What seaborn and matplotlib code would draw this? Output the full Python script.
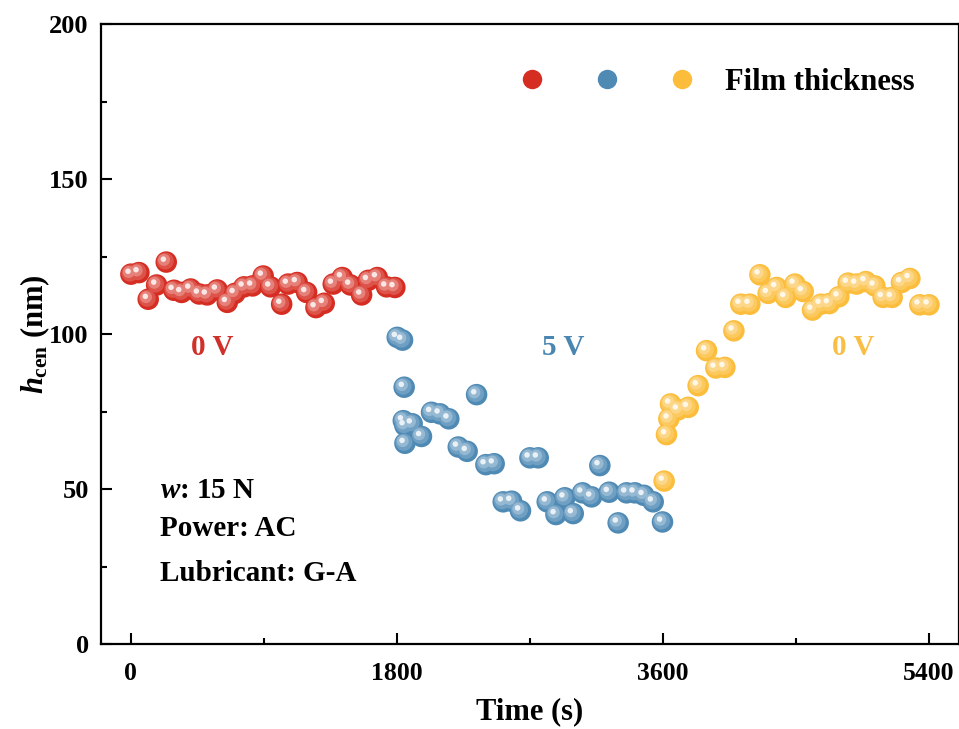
import numpy as np
import pandas as pd
import seaborn as sns
import matplotlib.pyplot as plt
import matplotlib.lines as mlines
from matplotlib.transforms import offset_copy
from matplotlib.legend_handler import HandlerTuple
from matplotlib.colors import to_rgb

# film thickness readings, one group per applied voltage
red_t = [0, 54, 117, 174, 239, 291, 343, 404, 462, 516, 584, 652, 704, 765, 823, 895,
         945, 1020, 1064, 1125, 1189, 1252, 1308, 1369, 1430, 1486, 1561, 1606, 1667, 1730, 1786]
red_h = [119.4, 119.9, 111.3, 115.9, 123.3, 114.2, 113.5, 114.6, 113.0, 112.7, 114.3, 110.3,
         113.2, 115.3, 115.6, 118.8, 115.3, 109.7, 116.2, 116.7, 113.5, 108.6, 110.0, 116.2,
         118.3, 115.9, 112.7, 117.4, 118.3, 115.3, 115.1]

blue_t = [1802, 1838, 1843, 1849, 1854, 1854, 1903, 1966, 2034, 2091, 2151, 2215, 2275, 2339,
          2402, 2458, 2519, 2576, 2636, 2700, 2756, 2817, 2876, 2936, 2993, 3056, 3117, 3173,
          3236, 3297, 3354, 3410, 3471, 3534, 3597]
blue_h = [99.0, 98.1, 72.1, 82.9, 70.5, 64.8, 71.1, 67.0, 74.8, 74.3, 72.7, 63.6, 62.2, 80.5,
          57.9, 58.2, 45.9, 46.1, 43.0, 60.1, 60.1, 45.9, 41.8, 47.2, 42.1, 48.8, 47.5, 57.6,
          49.0, 39.1, 48.8, 48.8, 48.0, 45.9, 39.4]

yellow_t = [3608, 3624, 3640, 3651, 3703, 3771, 3838, 3895, 3958, 4019, 4080, 4127, 4188, 4256,
            4312, 4369, 4430, 4493, 4549, 4612, 4669, 4725, 4790, 4853, 4910, 4973, 5034, 5090,
            5151, 5214, 5271, 5338, 5400]
yellow_h = [52.6, 67.6, 72.7, 77.5, 75.6, 76.4, 83.4, 94.7, 89.1, 89.3, 101.1, 109.7, 109.7,
            119.2, 113.2, 115.1, 111.9, 116.2, 113.8, 107.8, 109.7, 109.9, 112.1, 116.5, 116.2,
            117.0, 115.6, 111.9, 111.9, 116.7, 118.0, 109.5, 109.5]

phases = ["0 V (start)", "5 V", "0 V (end)"]
colors = ["#D62D22", "#4F8AB5", "#FBBD3B"]

df = pd.concat([
    pd.DataFrame({"time": red_t, "h": red_h, "phase": phases[0]}),
    pd.DataFrame({"time": blue_t, "h": blue_h, "phase": phases[1]}),
    pd.DataFrame({"time": yellow_t, "h": yellow_h, "phase": phases[2]}),
], ignore_index=True)

sns.set_style("ticks")
plt.rcParams["font.family"] = ["Liberation Serif", "DejaVu Serif"]
plt.rcParams["font.weight"] = "bold"
plt.rcParams["text.color"] = "black"
plt.rcParams["axes.labelcolor"] = "black"
plt.rcParams["xtick.color"] = "black"
plt.rcParams["ytick.color"] = "black"
plt.rcParams["axes.edgecolor"] = "black"
plt.rcParams["mathtext.fontset"] = "custom"
plt.rcParams["mathtext.it"] = "Liberation Serif:italic:bold"
plt.rcParams["mathtext.bf"] = "Liberation Serif:bold"
plt.rcParams["mathtext.rm"] = "Liberation Serif:bold"


def tint(c, f):
    r = np.array(to_rgb(c))
    return tuple(r + (1 - r) * f)


fig = plt.figure(figsize=(9.59, 7.29), dpi=100)
ax = fig.add_axes([0.1057, 0.1166, 0.8938, 0.8498])

# sphere look: base ball + lighter layers shifted up-left
layers = [(240, 0.0, 0, 0), (150, 0.18, -1.0, 1.0), (75, 0.4, -2.2, 2.2), (16, 0.88, -2.9, 2.9)]
for s, f, dx, dy in layers:
    tr = offset_copy(ax.transData, fig=fig, x=dx, y=dy, units="dots")
    sns.scatterplot(data=df, x="time", y="h", hue="phase", hue_order=phases,
                    palette=[tint(c, f) for c in colors], s=s, linewidth=0,
                    legend=False, ax=ax, transform=tr)

ax.set_xlim(-200, 5600)
ax.set_ylim(0, 200)
ax.set_xticks([0, 1800, 3600, 5400])
ax.set_xticks([900, 2700, 4500], minor=True)
ax.set_yticks([0, 50, 100, 150, 200])
ax.set_yticks([25, 75, 125, 175], minor=True)
ax.tick_params(axis="both", which="both", direction="in", width=1.5, colors="black")
ax.tick_params(axis="both", which="major", length=8)
ax.tick_params(axis="both", which="minor", length=4)
ax.tick_params(axis="x", which="major", labelsize=18.5, pad=13)
ax.tick_params(axis="y", which="major", labelsize=19, pad=9)
for sp in ax.spines.values():
    sp.set_linewidth(1.6)
    sp.set_color("black")
    sp.set_visible(True)

ax.set_xlabel("Time (s)", fontsize=22, fontweight="bold", labelpad=9)
ax.set_ylabel(r"$h_\mathrm{cen}$ (nm)", fontsize=22, fontweight="bold", labelpad=-2)

ax.text(548, 95.6, "0 V", color="#D0302A", fontsize=21, fontweight="bold", ha="center", va="center")
ax.text(2923, 95.6, "5 V", color="#4A86B0", fontsize=21, fontweight="bold", ha="center", va="center")
ax.text(4885, 95.6, "0 V", color="#F9BE45", fontsize=21, fontweight="bold", ha="center", va="center")

ax.text(196, 47.1, r"$w$: 15 N", fontsize=21, fontweight="bold", va="baseline")
ax.text(196, 34.9, "Power: AC", fontsize=21, fontweight="bold", va="baseline")
ax.text(196, 20.3, "Lubricant: G-A", fontsize=21, fontweight="bold", va="baseline")

handles = tuple(mlines.Line2D([], [], marker="o", ls="", markersize=14,
                              markerfacecolor=c, markeredgewidth=0)
                for c in colors)
ax.legend([handles], ["Film thickness"], handler_map={tuple: HandlerTuple(ndivide=None, pad=0)},
          loc="center left", bbox_to_anchor=(0.4586, 0.907), frameon=False, numpoints=1,
          handlelength=7.36, handletextpad=0.2, borderpad=0, borderaxespad=0,
          prop={"size": 22, "weight": "bold"})

fig.savefig("out.png", dpi=100)
